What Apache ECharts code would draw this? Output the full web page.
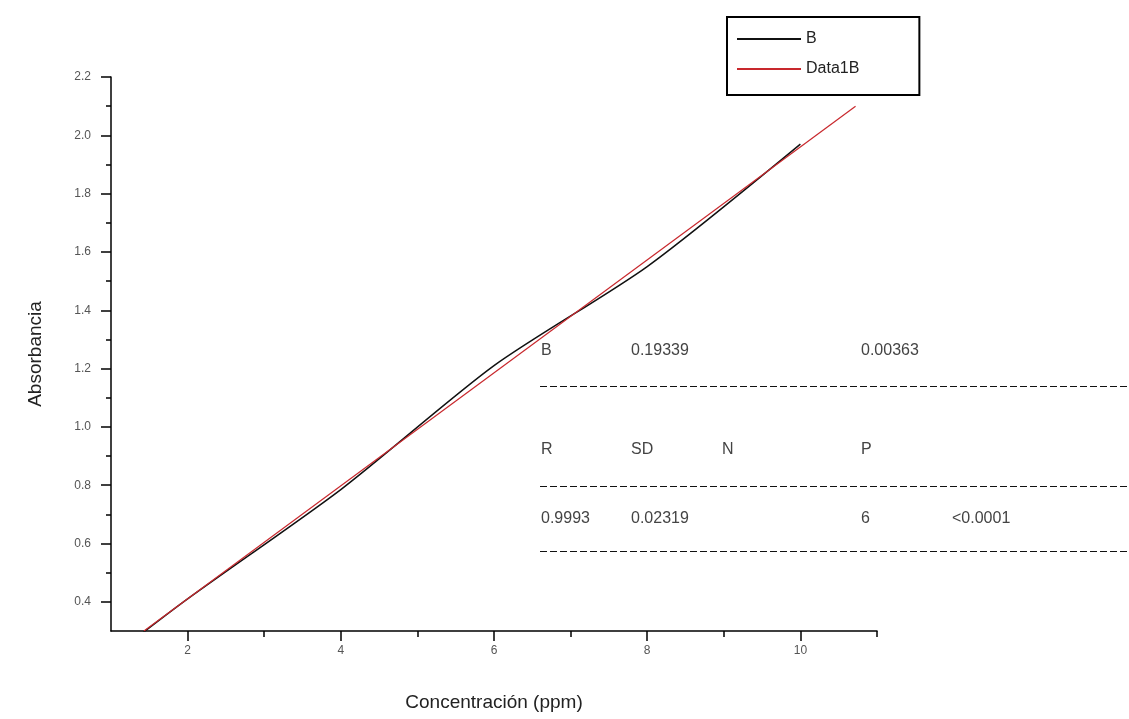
<!doctype html>
<html lang="es">
<head>
  <meta charset="utf-8">
  <title>Absorbancia vs Concentración</title>
  <script src="https://cdn.jsdelivr.net/npm/echarts@6.0.0/dist/echarts.min.js"></script>
  <style>
    html, body { margin: 0; padding: 0; background: #fff; }
    #chartmain { width: 1129px; height: 719px; }
  </style>
</head>
<body>
<div id="chartmain"></div>
<script>
  // measured points (B) and linear fit (Data1B)
  var concB = [1, 2, 4, 6, 8, 10];
  var absB = [0.21, 0.41, 0.785, 1.21, 1.55, 1.97];
  var concFit = [1.43, 10.72];
  var absFit = [0.30, 2.10];

  var xMajor = [2, 4, 6, 8, 10];
  var xMinor = [3, 5, 7, 9, 11];
  var yMajor = [0.4, 0.6, 0.8, 1.0, 1.2, 1.4, 1.6, 1.8, 2.0, 2.2];
  var yMinor = [0.5, 0.7, 0.9, 1.1, 1.3, 1.5, 1.7, 1.9, 2.1];

  // fit report rows, columns left to right
  var rowParam = ['B', '0.19339', '', '0.00363', ''];
  var rowHead = ['R', 'SD', 'N', 'P', ''];
  var rowStats = ['0.9993', '0.02319', '', '6', '<0.0001'];

  function pairs(xs, ys) {
    var out = [];
    for (var i = 0; i < xs.length; i++) out.push([xs[i], ys[i]]);
    return out;
  }

  var font = 'Liberation Sans, Arial, sans-serif';
  var colX = [541, 631, 722, 861, 952];
  var rowY = [352, 451, 520];
  var dashY = [386, 486, 551];

  var graphics = [];
  [rowParam, rowHead, rowStats].forEach(function (row, r) {
    row.forEach(function (txt, c) {
      if (!txt) return;
      graphics.push({
        type: 'text', left: colX[c], top: rowY[r] - 9,
        style: { text: txt, fill: '#444', font: '16px ' + font }
      });
    });
  });
  dashY.forEach(function (y) {
    graphics.push({
      type: 'line',
      shape: { x1: 540, y1: y + 0.5, x2: 1129, y2: y + 0.5 },
      style: { stroke: '#111', lineWidth: 1, lineDash: [7, 3] }
    });
  });

  var axisName = { fontSize: 19, color: '#222', fontFamily: font };
  var tickLabel = { fontSize: 12, color: '#555', fontFamily: font };

  var myChart = echarts.init(document.getElementById('chartmain'));
  var option = {
    backgroundColor: '#fff',
    animation: false,
    grid: { left: 111, right: 252, top: 77, bottom: 88 },
    legend: {
      orient: 'vertical',
      left: 727, top: 17,
      data: ['B', 'Data1B'],
      icon: 'rect',
      itemWidth: 64, itemHeight: 2, itemGap: 14,
      padding: [14, 60, 18, 10],
      borderColor: '#000', borderWidth: 2,
      textStyle: { fontSize: 16, color: '#222', fontFamily: font }
    },
    xAxis: [
      {
        type: 'value', min: 1, max: 11, position: 'bottom',
        name: 'Concentración (ppm)', nameLocation: 'middle', nameGap: 62,
        nameTextStyle: axisName,
        splitLine: { show: false },
        axisLine: { onZero: false, lineStyle: { color: '#000', width: 1.5 } },
        axisTick: { customValues: xMajor, length: 10, lineStyle: { color: '#000', width: 1.5 } },
        axisLabel: Object.assign({ customValues: xMajor, margin: 14 }, tickLabel)
      },
      {
        type: 'value', min: 1, max: 11, position: 'bottom', offset: 0,
        splitLine: { show: false },
        axisLine: { show: false, onZero: false },
        axisTick: { customValues: xMinor, length: 6, lineStyle: { color: '#000', width: 1.5 } },
        axisLabel: { show: false }
      }
    ],
    yAxis: [
      {
        type: 'value', min: 0.3, max: 2.2, position: 'left',
        name: 'Absorbancia', nameLocation: 'middle', nameGap: 66,
        nameTextStyle: axisName,
        splitLine: { show: false },
        axisLine: { onZero: false, lineStyle: { color: '#000', width: 1.5 } },
        axisTick: { customValues: yMajor, length: 10, lineStyle: { color: '#000', width: 1.5 } },
        axisLabel: Object.assign({
          customValues: yMajor, margin: 20,
          formatter: function (v) { return v.toFixed(1); }
        }, tickLabel)
      },
      {
        type: 'value', min: 0.3, max: 2.2, position: 'left', offset: 0,
        splitLine: { show: false },
        axisLine: { show: false, onZero: false },
        axisTick: { customValues: yMinor, length: 5, lineStyle: { color: '#000', width: 1.5 } },
        axisLabel: { show: false }
      }
    ],
    series: [
      {
        name: 'B', type: 'line', data: pairs(concB, absB),
        showSymbol: false, symbol: 'none', clip: true, smooth: 0.25,
        color: '#111',
        lineStyle: { color: '#111', width: 1.5 }
      },
      {
        name: 'Data1B', type: 'line', data: pairs(concFit, absFit),
        showSymbol: false, symbol: 'none', clip: true,
        color: '#c8282d',
        lineStyle: { color: '#c8282d', width: 1.2 }
      }
    ],
    graphic: graphics
  };
  myChart.setOption(option);
</script>
</body>
</html>
